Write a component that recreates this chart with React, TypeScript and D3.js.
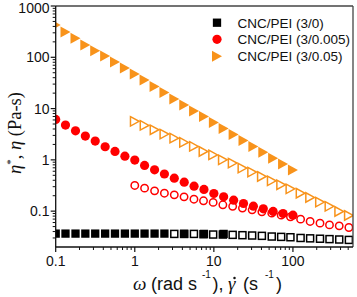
import React from "react";
import * as d3 from "d3";

// Oscillatory sweep: angular frequency (rad/s) and complex viscosity eta* (Pa·s)
const omega = [0.1, 0.133, 0.178, 0.237, 0.316, 0.422, 0.562, 0.75, 1, 1.33, 1.78, 2.37, 3.16, 4.22, 5.62, 7.5, 10, 13.3, 17.8, 23.7, 31.6, 42.2, 56.2, 75, 100];
const omegaNeat = [0.1, 0.133, 0.178, 0.237, 0.316, 0.422, 0.562, 0.75, 1, 1.33, 1.78, 2.37, 4.22, 7.5, 13.3];
const etaStarNeat = [0.0365, 0.0365, 0.0365, 0.0365, 0.0365, 0.0365, 0.0365, 0.0365, 0.0365, 0.0365, 0.0365, 0.0365, 0.036, 0.036, 0.036];
const etaStarLow = [6.15, 4.76, 3.69, 2.91, 2.32, 1.8, 1.46, 1.18, 0.99, 0.78, 0.64, 0.53, 0.44, 0.368, 0.307, 0.265, 0.221, 0.19, 0.164, 0.141, 0.125, 0.111, 0.0987, 0.09, 0.0836];
const etaStarHigh = [426, 311, 234, 173, 134, 106, 80.7, 61.7, 47.1, 36.0, 26.9, 20.5, 15.3, 11.7, 8.93, 6.98, 5.33, 4.07, 3.11, 2.38, 1.82, 1.4, 1.08, 0.826, 0.631];

// Steady shear: shear rate (1/s) and viscosity eta (Pa·s)
const shearRate = [1.0, 1.33, 1.78, 2.37, 3.16, 4.2, 5.6, 7.4, 9.8, 13, 17.3, 23, 30.5, 40.5, 54, 71, 93, 125, 165, 220, 290, 385, 510];
const shearRateNeat = [3.16, 4.2, 5.6, 7.4, 9.8, 13, 17.3, 23, 30.5, 40.5, 54, 71, 93, 125, 165, 220, 290, 385, 510];
const etaNeat = [0.036, 0.036, 0.036, 0.0355, 0.035, 0.035, 0.0345, 0.034, 0.0335, 0.033, 0.032, 0.0315, 0.031, 0.03, 0.0295, 0.029, 0.0285, 0.028, 0.0275];
const etaLow = [0.317, 0.281, 0.249, 0.224, 0.208, 0.19, 0.171, 0.159, 0.148, 0.133, 0.124, 0.115, 0.106, 0.097, 0.0914, 0.0835, 0.0774, 0.0698, 0.063, 0.0583, 0.054, 0.0517, 0.048];
const etaHigh = [5.63, 4.7, 3.86, 3.18, 2.65, 2.19, 1.83, 1.46, 1.25, 1.0, 0.865, 0.691, 0.577, 0.475, 0.39, 0.326, 0.272, 0.224, 0.185, 0.15, 0.124, 0.0987, 0.0824];

const legendLabels = ["CNC/PEI (3/0)", "CNC/PEI (3/0.005)", "CNC/PEI (3/0.05)"];
const xTickValues = [0.1, 1, 10, 100];
const xTickLabels = ["0.1", "1", "10", "100"];
const yTickValues = [0.1, 1, 10, 100, 1000];
const yTickLabels = ["0.1", "1", "10", "100", "1000"];

const W = 357;
const H = 297;
const plot = { left: 55.7, right: 353, top: 6, bottom: 247 };
const BLACK = "#000000";
const RED = "#ff0000";
const ORANGE = "#f8931b";
const SANS = "Arial, 'Liberation Sans', sans-serif";
const SERIF = "'Times New Roman', 'Liberation Serif', serif";

const x = d3.scaleLog().domain([0.1, 575]).range([plot.left, plot.right]);
const y = d3.scaleLog().domain([0.02, 1000]).range([plot.bottom, plot.top]);

function minorTicks(lo: number, hi: number): number[] {
  const out: number[] = [];
  for (let e = -3; e <= 3; e++) {
    for (let m = 2; m <= 9; m++) {
      const v = m * Math.pow(10, e);
      if (v > lo * 1.0001 && v < hi * 0.9999) out.push(v);
    }
  }
  return out;
}

function triPath(cx: number, cy: number, w: number, h: number): string {
  return `M${cx - w / 2},${cy - h / 2}L${cx + w / 2},${cy}L${cx - w / 2},${cy + h / 2}Z`;
}

type Marker = "square" | "circle" | "triangle";

function Mark({ kind, cx, cy, filled, color }: { kind: Marker; cx: number; cy: number; filled: boolean; color: string }) {
  const fill = filled ? color : "#ffffff";
  const stroke = filled ? "none" : color;
  const sw = 1.5;
  if (kind === "square") {
    const s = filled ? 8.3 : 7;
    return <rect x={cx - s / 2} y={cy - s / 2} width={s} height={s} fill={fill} stroke={stroke} strokeWidth={sw} />;
  }
  if (kind === "circle") {
    const r = filled ? 4.6 : 3.7;
    return <circle cx={cx} cy={cy} r={r} fill={fill} stroke={stroke} strokeWidth={sw} />;
  }
  return filled ? (
    <path d={triPath(cx, cy, 10, 11)} fill={fill} />
  ) : (
    <path d={triPath(cx, cy, 8.6, 9.4)} fill={fill} stroke={stroke} strokeWidth={sw} strokeLinejoin="miter" />
  );
}

function Series({ xs, ys, kind, filled, color }: { xs: number[]; ys: number[]; kind: Marker; filled: boolean; color: string }) {
  return (
    <g>
      {xs.map((xv, i) => (
        <Mark key={i} kind={kind} cx={x(xv)} cy={y(ys[i])} filled={filled} color={color} />
      ))}
    </g>
  );
}

export default function App() {
  const xMinor = minorTicks(0.1, 575);
  const yMinor = minorTicks(0.02, 1000);
  const legendX = 217;
  const legendRows = [22.7, 39.3, 56.2];
  const legendKinds: Marker[] = ["square", "circle", "triangle"];
  const legendColors = [BLACK, RED, ORANGE];
  const titleBase = 290;
  const supBase = 278;

  return (
    <svg width={W} height={H} style={{ position: "absolute", left: 0, top: 0, background: "#ffffff" }}>
      <defs>
        <clipPath id="plotClip">
          <rect x={plot.left} y={plot.top} width={plot.right - plot.left} height={plot.bottom - plot.top} />
        </clipPath>
      </defs>
      <rect x={0} y={0} width={W} height={H} fill="#ffffff" />

      {/* data */}
      <g clipPath="url(#plotClip)">
        <Series xs={shearRateNeat} ys={etaNeat} kind="square" filled={false} color={BLACK} />
        <Series xs={shearRate} ys={etaLow} kind="circle" filled={false} color={RED} />
        <Series xs={shearRate} ys={etaHigh} kind="triangle" filled={false} color={ORANGE} />
        <Series xs={omegaNeat} ys={etaStarNeat} kind="square" filled={true} color={BLACK} />
        <Series xs={omega} ys={etaStarLow} kind="circle" filled={true} color={RED} />
        <Series xs={omega} ys={etaStarHigh} kind="triangle" filled={true} color={ORANGE} />
      </g>

      {/* frame */}
      <line x1={plot.left} x2={plot.right} y1={plot.top} y2={plot.top} stroke="#444" strokeWidth={1.3} />
      <line x1={plot.right} x2={plot.right} y1={plot.top} y2={plot.bottom} stroke="#444" strokeWidth={1.3} />
      <line x1={plot.left} x2={plot.left} y1={plot.top} y2={plot.bottom} stroke="#111" strokeWidth={1.3} />
      <line x1={plot.left} x2={plot.right} y1={plot.bottom} y2={plot.bottom} stroke="#111" strokeWidth={1.3} />

      {/* x axis ticks */}
      {xTickValues.map((v, i) => (
        <g key={`xt${i}`}>
          <line x1={x(v)} x2={x(v)} y1={plot.bottom} y2={plot.bottom + 5} stroke="#111" strokeWidth={1.2} />
          <text x={x(v)} y={266} textAnchor="middle" fontFamily={SANS} fontSize={14} fill="#111">
            {xTickLabels[i]}
          </text>
        </g>
      ))}
      {xMinor.map((v, i) => (
        <line key={`xm${i}`} x1={x(v)} x2={x(v)} y1={plot.bottom} y2={plot.bottom + 3} stroke="#111" strokeWidth={1} />
      ))}

      {/* y axis ticks */}
      {yTickValues.map((v, i) => (
        <g key={`yt${i}`}>
          <line x1={plot.left - 5} x2={plot.left} y1={y(v)} y2={y(v)} stroke="#111" strokeWidth={1.2} />
          <text x={49.5} y={Math.max(y(v) + 5, 12.8)} textAnchor="end" fontFamily={SANS} fontSize={14} fill="#111">
            {yTickLabels[i]}
          </text>
        </g>
      ))}
      {yMinor.map((v, i) => (
        <line key={`ym${i}`} x1={plot.left - 3} x2={plot.left} y1={y(v)} y2={y(v)} stroke="#111" strokeWidth={1} />
      ))}

      {/* x axis title */}
      <text fontSize={18} fill="#111" fontFamily={SANS}>
        <tspan x={133} y={titleBase} fontFamily={SERIF} fontStyle="italic" fontSize={19}>ω</tspan>
        <tspan x={146} y={titleBase}> (rad s</tspan>
        <tspan x={202} y={supBase} fontSize={10}>-1</tspan>
        <tspan x={212.5} y={titleBase}>),</tspan>
        <tspan x={228} y={titleBase} fontFamily={SERIF} fontStyle="italic" fontSize={19}>γ</tspan>
        <tspan x={243} y={titleBase}>(s</tspan>
        <tspan x={265} y={supBase} fontSize={10}>-1</tspan>
        <tspan x={276} y={titleBase}>)</tspan>
      </text>
      {/* overdot on the shear-rate symbol */}
      <circle cx={234.5} cy={278} r={1.25} fill="#111" />

      {/* y axis title */}
      <text transform="translate(21,133) rotate(-90)" textAnchor="middle" fontFamily={SERIF} fontSize={18.5} fill="#111">
        <tspan fontStyle="italic">η</tspan>
        <tspan dy={-7} fontSize={11}>*</tspan>
        <tspan dy={7}>, </tspan>
        <tspan fontStyle="italic">η</tspan>
        <tspan> (Pa-s)</tspan>
      </text>

      {/* legend */}
      {legendLabels.map((label, i) => (
        <g key={`lg${i}`}>
          <Mark kind={legendKinds[i]} cx={legendX} cy={legendRows[i]} filled={true} color={legendColors[i]} />
          <text x={237.5} y={legendRows[i] + 5} fontFamily={SANS} fontSize={13.5} fill="#111">
            {label}
          </text>
        </g>
      ))}
    </svg>
  );
}
